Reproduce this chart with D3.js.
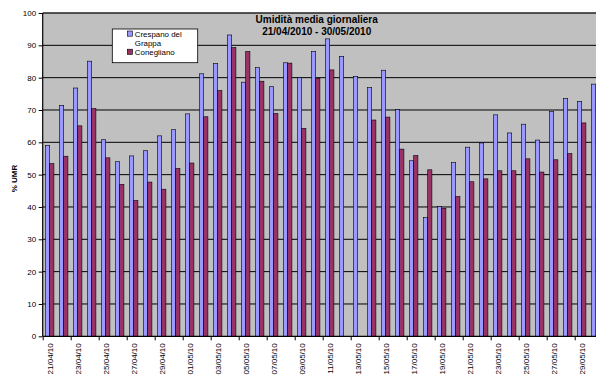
<!DOCTYPE html>
<html>
<head>
<meta charset="utf-8">
<script src="https://cdn.jsdelivr.net/npm/d3@7"></script>
<style>
  html, body { margin: 0; padding: 0; background: #fff; }
  svg { display: block; font-family: "Liberation Sans", Arial, sans-serif; }
</style>
</head>
<body>
<svg id="chart" width="596" height="389"></svg>
<script>
// Daily dates of the observation period
const dates = [
  "21/04/10","22/04/10","23/04/10","24/04/10","25/04/10","26/04/10","27/04/10","28/04/10","29/04/10","30/04/10",
  "01/05/10","02/05/10","03/05/10","04/05/10","05/05/10","06/05/10","07/05/10","08/05/10","09/05/10","10/05/10",
  "11/05/10","12/05/10","13/05/10","14/05/10","15/05/10","16/05/10","17/05/10","18/05/10","19/05/10","20/05/10",
  "21/05/10","22/05/10","23/05/10","24/05/10","25/05/10","26/05/10","27/05/10","28/05/10","29/05/10","30/05/10"
];

// Mean daily relative humidity (%) per station
const crespano = [
  59.0, 71.4, 76.8, 85.1, 60.8, 54.0, 55.8, 57.4, 62.0, 63.9,
  68.8, 81.2, 84.4, 93.2, 78.6, 83.1, 77.2, 84.6, 80.0, 88.1,
  92.0, 86.6, 80.4, 76.9, 82.3, 70.1, 54.3, 36.8, 40.1, 53.7,
  58.5, 59.8, 68.5, 62.9, 65.6, 60.7, 69.6, 73.5, 72.6, 78.0
];
const conegliano = [
  53.4, 55.7, 65.1, 70.4, 55.2, 47.0, 42.0, 47.7, 45.5, 51.9,
  53.6, 67.9, 76.0, 89.3, 88.1, 78.9, 68.9, 84.5, 64.3, 79.8,
  82.4, null, null, 66.9, 67.8, 57.9, 55.9, 51.5, 39.6, 43.2,
  47.8, 48.7, 51.2, 51.2, 54.9, 50.8, 54.6, 56.5, 66.0, null
];

const seriesNames = ["Crespano del Grappa", "Conegliano"];
const seriesColors = ["#9999FF", "#993366"];
const yTicks = [0, 10, 20, 30, 40, 50, 60, 70, 80, 90, 100];
const titleLines = ["Umidità media giornaliera", "21/04/2010 - 30/05/2010"];
const yLabel = "% UMR";

const svg = d3.select("#chart");

const plot = { left: 42.7, right: 602.7, top: 13, bottom: 336.3 };

const x = d3.scaleBand().domain(dates).range([plot.left, plot.right]);
const barW = 4.2;
const xs = d3.scaleBand()
  .domain(seriesNames)
  .range([x.bandwidth() / 2 - barW, x.bandwidth() / 2 + barW]);
const y = d3.scaleLinear().domain([0, 100]).range([plot.bottom, plot.top]);

// Plot area background
svg.append("rect")
  .attr("x", plot.left).attr("y", plot.top)
  .attr("width", plot.right - plot.left)
  .attr("height", plot.bottom - plot.top)
  .attr("fill", "#C0C0C0");

// Horizontal gridlines
svg.append("g")
  .selectAll("line")
  .data(yTicks.filter(v => v > 0 && v < 100))
  .join("line")
  .attr("x1", plot.left).attr("x2", plot.right)
  .attr("y1", d => y(d)).attr("y2", d => y(d))
  .attr("stroke", "#000").attr("stroke-width", 1);

// Top border of the plot area
svg.append("line")
  .attr("x1", plot.left).attr("x2", plot.right)
  .attr("y1", y(100)).attr("y2", y(100))
  .attr("stroke", "#222").attr("stroke-width", 1.5);

// Bars
const rows = dates.map((d, i) => ({ date: d, values: [crespano[i], conegliano[i]] }));
const groups = svg.append("g")
  .selectAll("g")
  .data(rows)
  .join("g")
  .attr("transform", d => `translate(${x(d.date)},0)`);

groups.selectAll("rect")
  .data(d => d.values.map((v, k) => ({ name: seriesNames[k], value: v, k })).filter(e => e.value != null))
  .join("rect")
  .attr("x", e => xs(e.name))
  .attr("width", xs.bandwidth())
  .attr("y", e => y(e.value))
  .attr("height", e => y(0) - y(e.value))
  .attr("fill", e => seriesColors[e.k])
  .attr("stroke", "#000")
  .attr("stroke-width", 0.6);

// Y axis
const yAxis = svg.append("g")
  .attr("transform", `translate(${plot.left},0)`)
  .call(d3.axisLeft(y).tickValues(yTicks).tickSize(4).tickPadding(2.5));
yAxis.select(".domain").remove();
yAxis.selectAll(".tick line").attr("stroke", "#000");
yAxis.selectAll(".tick text").attr("font-size", 8).attr("fill", "#000")
  .attr("font-family", "Liberation Sans, Arial, sans-serif");
svg.append("line")
  .attr("x1", plot.left).attr("x2", plot.left)
  .attr("y1", plot.top).attr("y2", plot.bottom)
  .attr("stroke", "#000").attr("stroke-width", 1.2);

// X axis: ticks between every second category
const xIdx = d3.scaleLinear().domain([0, dates.length]).range([plot.left, plot.right]);
const xAxis = svg.append("g")
  .attr("transform", `translate(0,${plot.bottom})`)
  .call(d3.axisBottom(xIdx).tickValues(d3.range(0, dates.length + 1, 2)).tickFormat("").tickSize(4));
xAxis.select(".domain").remove();
xAxis.selectAll(".tick line").attr("stroke", "#000");
svg.append("line")
  .attr("x1", plot.left).attr("x2", plot.right)
  .attr("y1", plot.bottom).attr("y2", plot.bottom)
  .attr("stroke", "#000").attr("stroke-width", 1.2);

// Rotated date labels
svg.append("g")
  .selectAll("text")
  .data(dates.filter((d, i) => i % 2 === 0))
  .join("text")
  .attr("transform", d => `translate(${x(d) + x.bandwidth() / 2},${plot.bottom + 7}) rotate(-90)`)
  .attr("text-anchor", "end")
  .attr("dy", "0.35em")
  .attr("font-size", 8)
  .attr("fill", "#000")
  .text(d => d);

// Y axis title
svg.append("text")
  .attr("transform", "translate(14.5,178.5) rotate(-90)")
  .attr("text-anchor", "middle")
  .attr("dy", "0.35em")
  .attr("font-size", 8)
  .attr("font-weight", "bold")
  .attr("fill", "#000")
  .text(yLabel);

// Chart title
svg.append("g")
  .selectAll("text")
  .data(titleLines)
  .join("text")
  .attr("x", 316.7)
  .attr("y", (d, i) => 22.5 + i * 12.8)
  .attr("text-anchor", "middle")
  .attr("font-size", 10)
  .attr("font-weight", "bold")
  .attr("fill", "#000")
  .text(d => d);

// Legend
const legend = svg.append("g");
legend.append("rect")
  .attr("x", 112.3).attr("y", 29)
  .attr("width", 85.4).attr("height", 33.7)
  .attr("fill", "#fff").attr("stroke", "#000").attr("stroke-width", 0.8);
const legendSwatches = [
  { color: seriesColors[0], sy: 31 },
  { color: seriesColors[1], sy: 49.2 }
];
legendSwatches.forEach(it => {
  legend.append("rect")
    .attr("x", 127.3).attr("y", it.sy)
    .attr("width", 5.2).attr("height", 5.2)
    .attr("fill", it.color).attr("stroke", "#000").attr("stroke-width", 0.6);
});
const legendText = [
  { t: "Crespano del", y: 36.8 },
  { t: "Grappa", y: 45.8 },
  { t: "Conegliano", y: 54.8 }
];
legend.selectAll("text.lt")
  .data(legendText)
  .join("text")
  .attr("class", "lt")
  .attr("x", 134.8)
  .attr("y", d => d.y)
  .attr("font-size", 7.9)
  .attr("fill", "#000")
  .text(d => d.t);
</script>
</body>
</html>
